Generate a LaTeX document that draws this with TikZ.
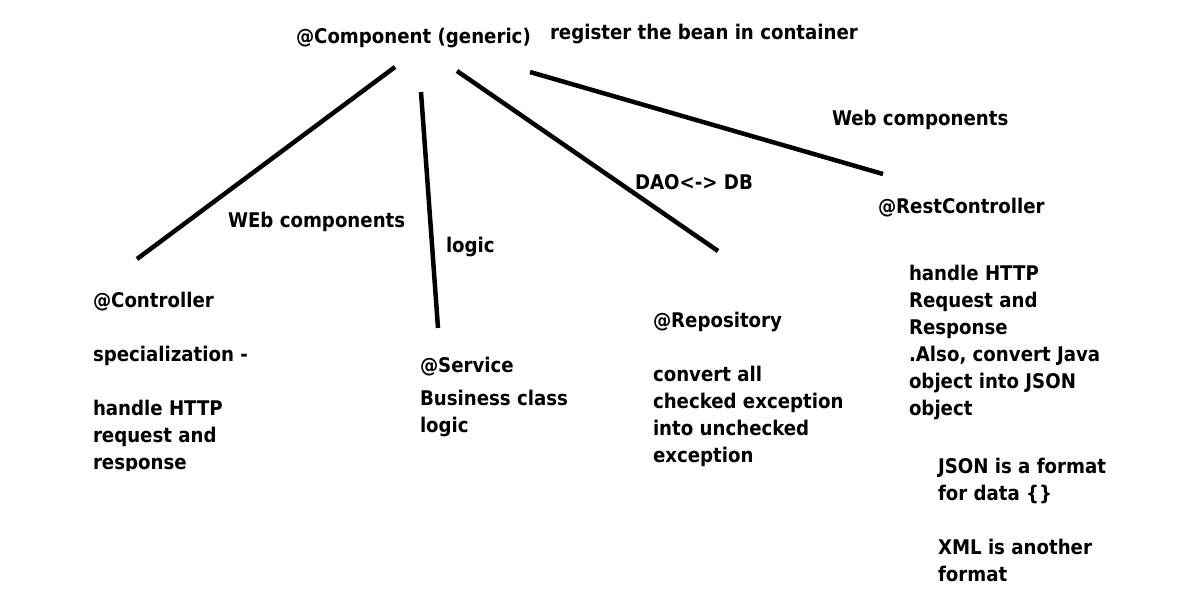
\documentclass[tikz,border=0pt]{standalone}
\usepackage{fontspec}
\setmainfont{DejaVu Sans Condensed}[BoldFont={DejaVu Sans Condensed Bold}]
\begin{document}
\begin{tikzpicture}[x=1pt,y=-1pt,
  txt/.style={anchor=base west,inner sep=0pt,outer sep=0pt,font=\fontsize{20.2}{27}\selectfont\bfseries},
  stroke/.style={line width=4.5pt,line cap=butt}]
\fill[white] (0,0) rectangle (1191,600);
\useasboundingbox (0,0) rectangle (1191,600);
\newcommand{\lns}[1]{\begin{tabular}[t]{@{}l@{}}#1\end{tabular}}
\node[txt] (comp) at (296,43) {@Component (generic)};
\node[txt] (reg) at (550,39) {register the bean in container};
\node[txt] (webr) at (832,125) {Web components};
\node[txt] (dao) at (635,189) {DAO<-> DB};
\node[txt] (rest) at (878,213) {@RestController};
\node[txt] (webl) at (228,227) {WEb components};
\node[txt] (logicl) at (446,252) {logic};
\begin{scope}
\clip (0,0) rectangle (400,470);
\node[txt] (ctrl) at (93,307) {\lns{@Controller\\ \\specialization -\\ \\handle HTTP\\request and\\response}};
\end{scope}
\node[txt] (serv) at (420,372) {@Service};
\node[txt] (servd) at (420,405) {\lns{Business class\\logic}};
\node[txt] (repo) at (653,327) {\lns{@Repository\\ \\convert all\\checked exception\\into unchecked\\exception}};
\node[txt] (restd) at (909,280) {\lns{handle HTTP\\Request and\\Response\\.Also, convert Java\\object into JSON\\object}};
\node[txt] (json) at (938,473) {\lns{JSON is a format\\for data \{\}\\ \\XML is another\\format}};
\coordinate (aL) at (395,67);  \coordinate (bL) at (137,259);
\coordinate (aS) at (421,92);  \coordinate (bS) at (438,328);
\coordinate (aR) at (457,71);  \coordinate (bR) at (718,251);
\coordinate (aC) at (530,72);  \coordinate (bC) at (883,174);
\draw[stroke] (aL) -- (bL);
\draw[stroke] (aS) -- (bS);
\draw[stroke] (aR) -- (bR);
\draw[stroke] (aC) -- (bC);
\end{tikzpicture}
\end{document}
